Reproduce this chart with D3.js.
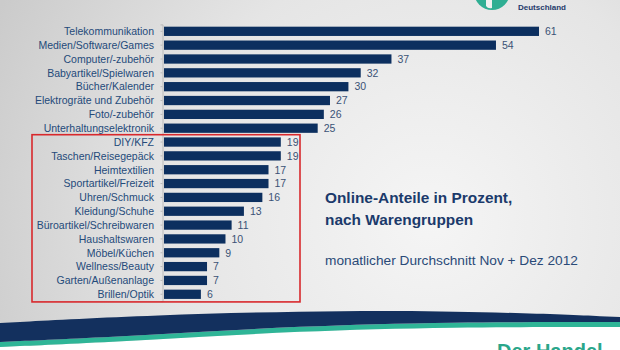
<!DOCTYPE html>
<html><head><meta charset="utf-8">
<script src="https://cdn.jsdelivr.net/npm/d3@7"></script>
<style>html,body{margin:0;padding:0;overflow:hidden;background:#fff}svg{display:block}</style>
</head><body>
<script>
const categories = ["Telekommunikation","Medien/Software/Games","Computer/-zubehör","Babyartikel/Spielwaren","Bücher/Kalender","Elektrogräte und Zubehör","Foto/-zubehör","Unterhaltungselektronik","DIY/KFZ","Taschen/Reisegepäck","Heimtextilien","Sportartikel/Freizeit","Uhren/Schmuck","Kleidung/Schuhe","Büroartikel/Schreibwaren","Haushaltswaren","Möbel/Küchen","Wellness/Beauty","Garten/Außenanlage","Brillen/Optik"];
const values = [61,54,37,32,30,27,26,25,19,19,17,17,16,13,11,10,9,7,7,6];
const highlighted = categories.slice(8);
const titleLines = ["Online-Anteile in Prozent,","nach Warengruppen"];
const subtitle = "monatlicher Durchschnitt Nov + Dez 2012";

(function(){
const W=620,H=350;
const svg=d3.select("body").append("svg").attr("width",W).attr("height",H);
const defs=svg.append("defs");
const rg=defs.append("radialGradient").attr("id","bg").attr("gradientUnits","userSpaceOnUse")
  .attr("cx",430).attr("cy",220).attr("r",480);
rg.append("stop").attr("offset","0").attr("stop-color","#f5f5f5");
rg.append("stop").attr("offset","0.55").attr("stop-color","#e5e5e5");
rg.append("stop").attr("offset","1").attr("stop-color","#cbcbcb");
svg.append("rect").attr("width",W).attr("height",H).attr("fill","url(#bg)");

const font="'Liberation Sans', Arial, Helvetica, sans-serif";
const x=d3.scaleLinear().domain([0,61]).range([164,539]);
const y=d3.scaleBand().domain(categories).range([24.4,301.2]).paddingInner(0.33).paddingOuter(0.165);

const ax=svg.append("g").attr("transform",`translate(${x(0)-1.5},0)`)
  .call(d3.axisLeft(y).tickSize(2).tickFormat(""));
ax.select(".domain").attr("stroke","#b9b9b9");
ax.selectAll(".tick line").attr("stroke","#b9b9b9");

const hb0=y(highlighted[0]), hb1=y(highlighted[highlighted.length-1])+y.bandwidth();
svg.append("rect").attr("x",32).attr("y",hb0-2.7).attr("width",268).attr("height",hb1-hb0+5.7)
  .attr("fill","none").attr("stroke","#d8282c").attr("stroke-width",1.6);

svg.append("g").selectAll("rect").data(categories).join("rect")
  .attr("x",x(0)).attr("y",d=>y(d)).attr("height",y.bandwidth())
  .attr("width",(d,i)=>x(values[i])-x(0)).attr("fill","#0c2f5f");

svg.append("g").selectAll("text").data(categories).join("text")
  .attr("x",154).attr("y",d=>y(d)+y.bandwidth()/2).attr("dy","0.36em")
  .attr("text-anchor","end").attr("font-family",font).attr("font-size",10.5)
  .attr("fill","#244a7a").text(d=>d);

svg.append("g").selectAll("text").data(categories).join("text")
  .attr("x",(d,i)=>x(values[i])+6).attr("y",d=>y(d)+y.bandwidth()/2).attr("dy","0.36em")
  .attr("font-family",font).attr("font-size",10.5).attr("fill","#3a5276").text((d,i)=>values[i]);

svg.append("g").selectAll("text").data(titleLines).join("text")
  .attr("x",325).attr("y",(d,i)=>203+i*22).attr("font-family",font).attr("font-weight","bold")
  .attr("font-size",15.4).attr("fill","#1b3a6b").text(d=>d);
svg.append("text").attr("x",325).attr("y",265).attr("font-family",font).attr("font-size",13.7)
  .attr("fill","#2a4a78").text(subtitle);

const line=d3.line().curve(d3.curveBasis);
const edgeTop=[[0,323],[150,315],[350,310],[500,312],[620,317]];
const edgeMid=[[0,342],[150,335],[300,326],[450,322],[620,322]];
const edgeBot=[[0,347],[150,340],[300,331],[450,327],[620,327]];
function band(a,b){return line(a)+"L"+line(b.slice().reverse()).slice(1)+"Z";}
svg.append("path").attr("d",line(edgeBot)+`L620,${H}L0,${H}Z`).attr("fill","#ffffff");
svg.append("path").attr("d",band(edgeMid,edgeBot)).attr("fill","#2fb597");
svg.append("path").attr("d",band(edgeTop,edgeMid)).attr("fill","#13305e");
svg.append("text").attr("x",497).attr("y",358).attr("font-family",font).attr("font-weight","bold")
  .attr("font-size",20).attr("fill","#2aa68a").text("Der Handel");

svg.append("circle").attr("cx",492).attr("cy",-8).attr("r",18).attr("fill","#2fae93");
svg.append("path").attr("d","M486,-4 L492,-4 L492,8 Q488,9 486,6 Z").attr("fill","#f0f0f0");
svg.append("text").attr("x",518).attr("y",0).attr("font-family",font).attr("font-weight","bold")
  .attr("font-size",8).attr("fill","#1f3a6b").text("Handelsverband");
svg.append("text").attr("x",518).attr("y",9.5).attr("font-family",font).attr("font-weight","bold")
  .attr("font-size",8).attr("fill","#1f3a6b").text("Deutschland");
})();
</script>
</body></html>
